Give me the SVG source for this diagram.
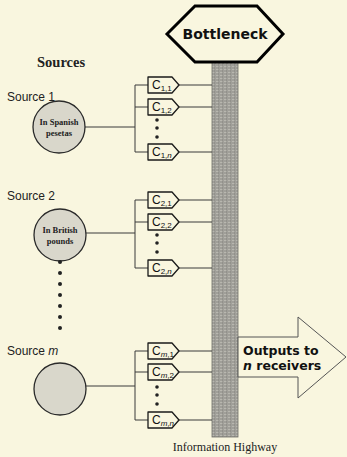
<svg xmlns="http://www.w3.org/2000/svg" width="347" height="457" viewBox="0 0 347 457">
<defs>
<pattern id="tex" width="4" height="3" patternUnits="userSpaceOnUse">
<rect width="4" height="3" fill="#a09f99"/>
<rect x="0" y="0" width="2" height="1" fill="#b8b7af"/>
<rect x="2" y="1.5" width="1" height="1" fill="#84847e"/>
</pattern>
<style>
.ln{stroke:#3a3a3a;stroke-width:1;fill:none}
.tag{fill:#f9f6df;stroke:#1a1a1a;stroke-width:1.3;stroke-linejoin:round}
.circ{fill:#d9d7cb;stroke:#2a2a2a;stroke-width:1.3}
.c{font-family:"Liberation Sans",Arial,sans-serif;font-size:12px;fill:#111}
.sub{font-size:8px}
.src{font-family:"Liberation Sans",Arial,sans-serif;font-size:12px;fill:#222}
.ct{font-family:"Liberation Serif","Times New Roman",serif;font-size:8.5px;font-weight:bold;fill:#222;text-anchor:middle}
.dot{fill:#222}
.out{font-family:"DejaVu Sans",Verdana,sans-serif;font-size:12.5px;font-weight:bold;fill:#111}
</style>
</defs>
<rect width="347" height="457" fill="#f9f6df"/>

<g id="highway">
<rect x="212" y="60" width="26" height="377" fill="url(#tex)" stroke="#6e6e68" stroke-width="0.8"/>
<text x="225" y="451" text-anchor="middle" font-family="Liberation Serif,'Times New Roman',serif" font-size="12" fill="#222">Information Highway</text>
</g>

<g id="bottleneck">
<polygon points="167,34 195,6 257,6 283,34 257,62 195,62" fill="#f9f6df" stroke="#000" stroke-width="3" stroke-linejoin="miter"/>
<text x="225" y="39" text-anchor="middle" font-family="DejaVu Sans,Verdana,sans-serif" font-size="14" font-weight="bold" fill="#111">Bottleneck</text>
</g>

<text x="37" y="67" font-family="Liberation Serif,'Times New Roman',serif" font-size="14.5" font-weight="bold" fill="#222">Sources</text>

<g id="connectors">
<path class="ln" d="M85,127 H135 M135,85 V152 M135,85 H148 M135,107 H148 M135,152 H148 M179,85 H212 M179,107 H212 M179,152 H212"/>
<path class="ln" d="M86,233 H135 M135,200 V268 M135,200 H148 M135,222 H148 M135,268 H148 M179,200 H212 M179,222 H212 M179,268 H212"/>
<path class="ln" d="M86,386 H135 M135,351 V420 M135,351 H148 M135,372 H148 M135,420 H148 M179,351 H212 M179,372 H212 M179,420 H212"/>
</g>

<g id="source1">
<text class="src" x="7" y="101">Source 1</text>
<circle class="circ" cx="59" cy="127" r="26"/>
<text class="ct" x="59" y="125">In Spanish</text>
<text class="ct" x="59" y="136">pesetas</text>
</g>

<g id="source2">
<text class="src" x="7" y="200">Source 2</text>
<circle class="circ" cx="60" cy="235" r="26"/>
<text class="ct" x="60" y="233">In British</text>
<text class="ct" x="60" y="244">pounds</text>
</g>

<g id="sourcedots">
<circle class="dot" cx="60" cy="262" r="2"/>
<circle class="dot" cx="60" cy="273" r="2"/>
<circle class="dot" cx="60" cy="284" r="2"/>
<circle class="dot" cx="60" cy="295" r="2"/>
<circle class="dot" cx="60" cy="306" r="2"/>
<circle class="dot" cx="60" cy="317" r="2"/>
<circle class="dot" cx="60" cy="328" r="2"/>
</g>

<g id="sourcem">
<text class="src" x="7" y="355">Source <tspan font-style="italic">m</tspan></text>
<circle class="circ" cx="60" cy="389" r="26"/>
</g>

<g id="c11"><polygon class="tag" points="148,77 172,77 179,85 172,93 148,93"/><text class="c" x="152" y="89">C<tspan class="sub" dy="2">1,1</tspan></text></g>
<g id="c12"><polygon class="tag" points="148,99 172,99 179,107 172,115 148,115"/><text class="c" x="152" y="111">C<tspan class="sub" dy="2">1,2</tspan></text></g>
<g id="dots1"><circle class="dot" cx="157" cy="120" r="1.8"/><circle class="dot" cx="157" cy="128" r="1.8"/><circle class="dot" cx="157" cy="137" r="1.8"/></g>
<g id="c1n"><polygon class="tag" points="148,144 172,144 179,152 172,160 148,160"/><text class="c" x="152" y="156">C<tspan class="sub" dy="2">1,<tspan font-style="italic">n</tspan></tspan></text></g>

<g id="c21"><polygon class="tag" points="148,192 172,192 179,200 172,208 148,208"/><text class="c" x="152" y="204">C<tspan class="sub" dy="2">2,1</tspan></text></g>
<g id="c22"><polygon class="tag" points="148,214 172,214 179,222 172,230 148,230"/><text class="c" x="152" y="226">C<tspan class="sub" dy="2">2,2</tspan></text></g>
<g id="dots2"><circle class="dot" cx="157" cy="235" r="1.8"/><circle class="dot" cx="157" cy="243" r="1.8"/><circle class="dot" cx="157" cy="252" r="1.8"/></g>
<g id="c2n"><polygon class="tag" points="148,260 172,260 179,268 172,276 148,276"/><text class="c" x="152" y="272">C<tspan class="sub" dy="2">2,<tspan font-style="italic">n</tspan></tspan></text></g>

<g id="cm1"><polygon class="tag" points="148,343 172,343 179,351 172,359 148,359"/><text class="c" x="152" y="355">C<tspan class="sub" dy="2"><tspan font-style="italic">m</tspan>,1</tspan></text></g>
<g id="cm2"><polygon class="tag" points="148,364 172,364 179,372 172,380 148,380"/><text class="c" x="152" y="376">C<tspan class="sub" dy="2"><tspan font-style="italic">m</tspan>,2</tspan></text></g>
<g id="dotsm"><circle class="dot" cx="157" cy="387" r="1.8"/><circle class="dot" cx="157" cy="395" r="1.8"/><circle class="dot" cx="157" cy="404" r="1.8"/></g>
<g id="cmn"><polygon class="tag" points="148,412 172,412 179,420 172,428 148,428"/><text class="c" x="152" y="424">C<tspan class="sub" dy="2"><tspan font-style="italic">m</tspan>,<tspan font-style="italic">n</tspan></tspan></text></g>

<g id="outputs">
<polygon points="238,337 298,337 298,317 346,357 298,398 298,377 238,377" fill="#f9f6df" stroke="#555" stroke-width="1"/>
<text class="out" x="243" y="355">Outputs to</text>
<text class="out" x="243" y="370"><tspan font-style="italic">n</tspan> receivers</text>
</g>
</svg>
